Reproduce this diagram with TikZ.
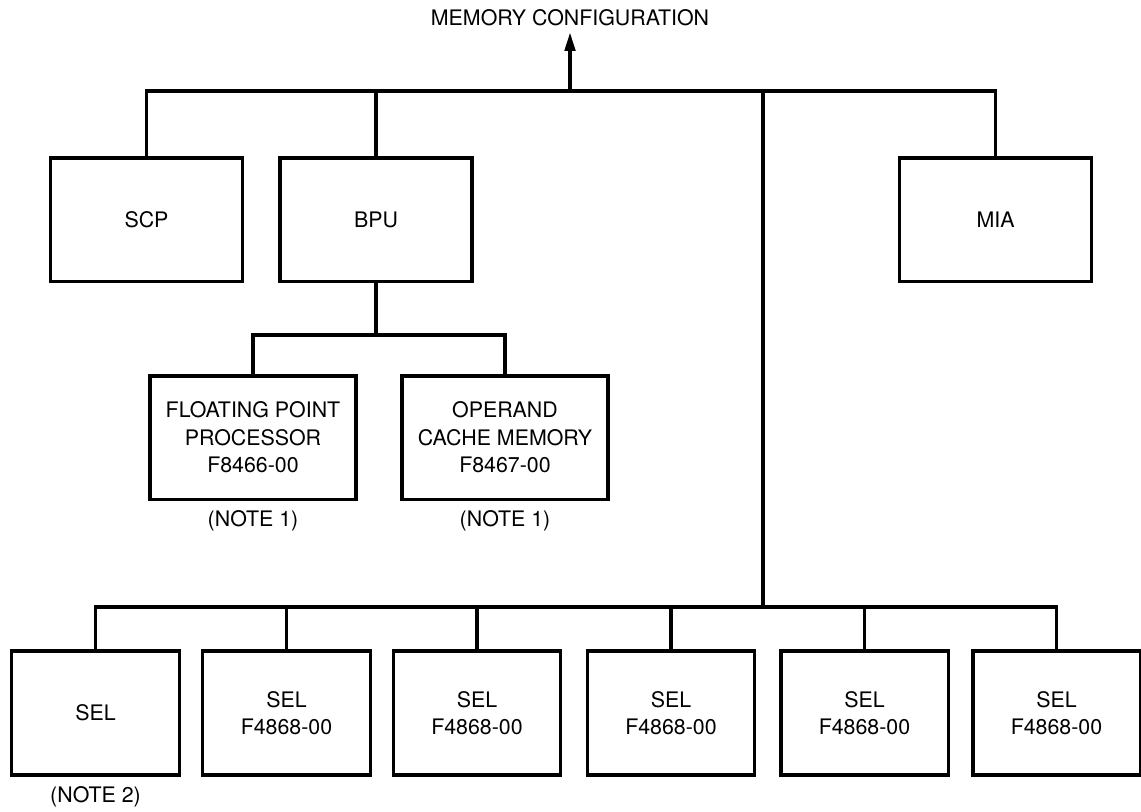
\documentclass[tikz,border=0pt]{standalone}
\usepackage{fontspec}
\setmainfont{TeX Gyre Heros}
\usepackage{tikz}
\usetikzlibrary{arrows.meta,positioning}

\begin{document}
\begin{tikzpicture}[x=0.025cm,y=-0.025cm,
  font=\fontsize{15.2}{19.5}\selectfont,
  unit/.style={draw=black,line width=2.3pt,align=center,inner sep=2pt},
  cpu/.style={unit,minimum width=4.8cm,minimum height=3.08cm},
  opt/.style={unit,minimum width=5.15cm,minimum height=3.08cm},
  sel/.style={unit,minimum width=4.18cm,minimum height=3.1cm},
  note/.style={inner sep=1pt},
  wire/.style={line width=2.2pt},
  >={Triangle[length=13pt,width=7.5pt]}]
  \useasboundingbox (0,0) rectangle (1141,811);
  \node (title) at (570,18) {MEMORY CONFIGURATION};
  % processors on the memory bus
  \node[cpu] (scp) at (146.5,219.5) {SCP};
  \node[cpu] (bpu) at (376,219.5) {BPU};
  \node[cpu] (mia) at (995.5,219.5) {MIA};
  \node[opt] (fpp) at (253,437.5) {FLOATING POINT\\PROCESSOR\\F8466-00};
  \node[opt] (ocm) at (505,437.5) {OPERAND\\CACHE MEMORY\\F8467-00};
  \node[note,below=6pt of fpp] (fppnote) {(NOTE 1)};
  \node[note,below=6pt of ocm] (ocmnote) {(NOTE 1)};
  % selector channels
  \node[sel] (sel1) at (95.5,713) {SEL};
  \node[sel] (sel2) at (286.5,713) {SEL\\F4868-00};
  \node[sel] (sel3) at (477,713) {SEL\\F4868-00};
  \node[sel] (sel4) at (671,713) {SEL\\F4868-00};
  \node[sel] (sel5) at (864.5,713) {SEL\\F4868-00};
  \node[sel] (sel6) at (1056.5,713) {SEL\\F4868-00};
  \node[note,below=6pt of sel1] (selnote) {(NOTE 2)};
  \coordinate (topbus) at (570,91);
  \coordinate (tap) at (763,91);
  \coordinate (selbus) at (763,607);
  \coordinate (optbus) at (376,335);
  \draw[wire,->,shorten >=1pt] (topbus) -- (title);
  \draw[wire] (scp.north) |- (topbus) -| (mia.north);
  \draw[wire] (bpu.north) -- (bpu.north |- topbus);
  \draw[wire] (tap) -- (selbus);
  \draw[wire] (bpu.south) -- (optbus);
  \draw[wire] (fpp.north) |- (optbus) -| (ocm.north);
  \draw[wire] (sel1.north) |- (selbus) -| (sel6.north);
  \foreach \i in {2,...,5}
    \draw[wire] (sel\i.north) -- (sel\i.north |- selbus);
\end{tikzpicture}
\end{document}
